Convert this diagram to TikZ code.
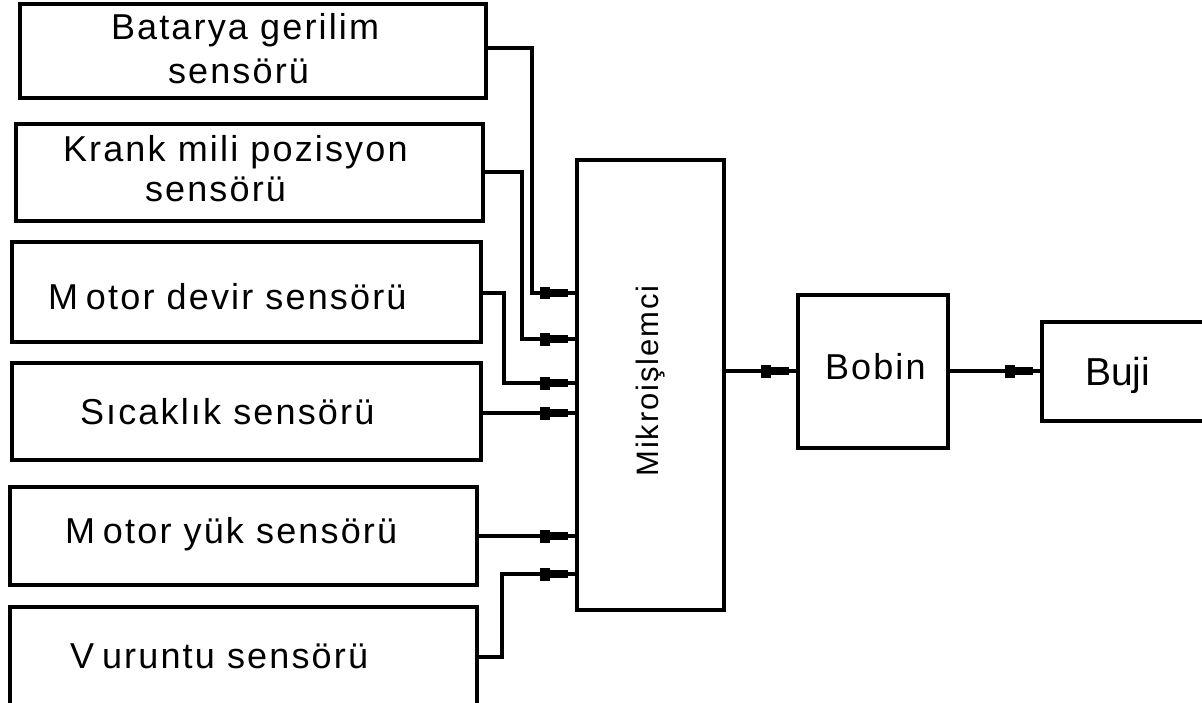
\documentclass[tikz,border=0pt]{standalone}
\usepackage{fontspec}
\setmainfont{Liberation Sans}[LetterSpace=6]
\newfontfamily\plainfont{Liberation Sans}
\begin{document}
\begin{tikzpicture}[x=1pt,y=-1pt,
  box/.style={draw, rectangle, line width=3.4pt, inner sep=0pt, outer sep=0pt},
  wire/.style={line width=3.4pt},
  txt/.style={font=\fontsize{36}{40}\selectfont, inner sep=0pt, outer sep=0pt},
  tip/.pic={\fill (-37,-6) rectangle (-27,6.5); \fill (-27,-3.8) rectangle (-9,4);}]
\useasboundingbox (0,0) rectangle (1202,703);
\clip (0,0) rectangle (1202,703);
\fill[white] (0,0) rectangle (1202,703);
% boxes
\node[box, minimum width=466pt, minimum height=94pt] (b1) at (253,51) {};
\node[box, minimum width=467pt, minimum height=97pt] (b2) at (249.5,172.5) {};
\node[box, minimum width=469pt, minimum height=100pt] (b3) at (246.5,292) {};
\node[box, minimum width=469pt, minimum height=97pt] (b4) at (246.5,411.5) {};
\node[box, minimum width=467pt, minimum height=98pt] (b5) at (243.5,536) {};
\node[box, minimum width=467pt, minimum height=123pt] (b6) at (243.5,668.5) {};
\node[box, minimum width=147pt, minimum height=450pt] (mc) at (650.5,385) {};
\node[box, minimum width=150pt, minimum height=153pt] (bob) at (873,371.5) {};
\node[box, minimum width=188pt, minimum height=99pt] (buji) at (1136,371.5) {};
% texts
\node[txt, anchor=base west] (t1a) at (111,40) {Batarya gerilim};
\node[txt, anchor=base west] (t1b) at (168,84) {sensörü};
\node[txt, anchor=base west] (t2a) at (63,162) {Krank mili pozisyon};
\node[txt, anchor=base west] (t2b) at (145,202) {sensörü};
\node[txt, anchor=base west] (t3) at (48,310) {M\kern8pt otor devir sensörü};
\node[txt, anchor=base west] (t4) at (80,424) {Sıcaklık sensörü};
\node[txt, anchor=base west] (t5) at (65,543) {M\kern8pt otor yük sensörü};
\node[txt, anchor=base west] (t6) at (70,668) {V\kern8pt uruntu sensörü};
\node[txt, rotate=90, font=\fontsize{31}{34}\selectfont] (tmc) at (651,381) {Mikroişlemci};
\node[txt, anchor=base west] (tbob) at (825,379) {Bobin};
\node[inner sep=0pt, anchor=base west, font=\plainfont\fontsize{39}{42}\selectfont] (tbuji) at (1085,385) {Buji};
% connectors
\draw[wire] (b1.east |- 0,48) -| (532,293) -- (mc.west |- 0,293);
\draw[wire] (b2.east |- 0,172) -| (522,339) -- (mc.west |- 0,339);
\draw[wire] (b3.east |- 0,293) -| (504,383) -- (mc.west |- 0,383);
\draw[wire] (b4.east |- 0,413) -- (mc.west |- 0,413);
\draw[wire] (b5.east |- 0,536) -- (mc.west |- 0,536);
\draw[wire] (b6.east |- 0,657) -| (502,574) -- (mc.west |- 0,574);
\draw[wire] (mc.east |- 0,371) -- (bob.west |- 0,371);
\draw[wire] (bob.east |- 0,371) -- (buji.west |- 0,371);
% arrow tips
\pic at (mc.west |- 0,293) {tip};
\pic at (mc.west |- 0,339) {tip};
\pic at (mc.west |- 0,383) {tip};
\pic at (mc.west |- 0,413) {tip};
\pic at (mc.west |- 0,536) {tip};
\pic at (mc.west |- 0,574) {tip};
\pic at (bob.west |- 0,371) {tip};
\pic at (buji.west |- 0,371) {tip};
\end{tikzpicture}
\end{document}
